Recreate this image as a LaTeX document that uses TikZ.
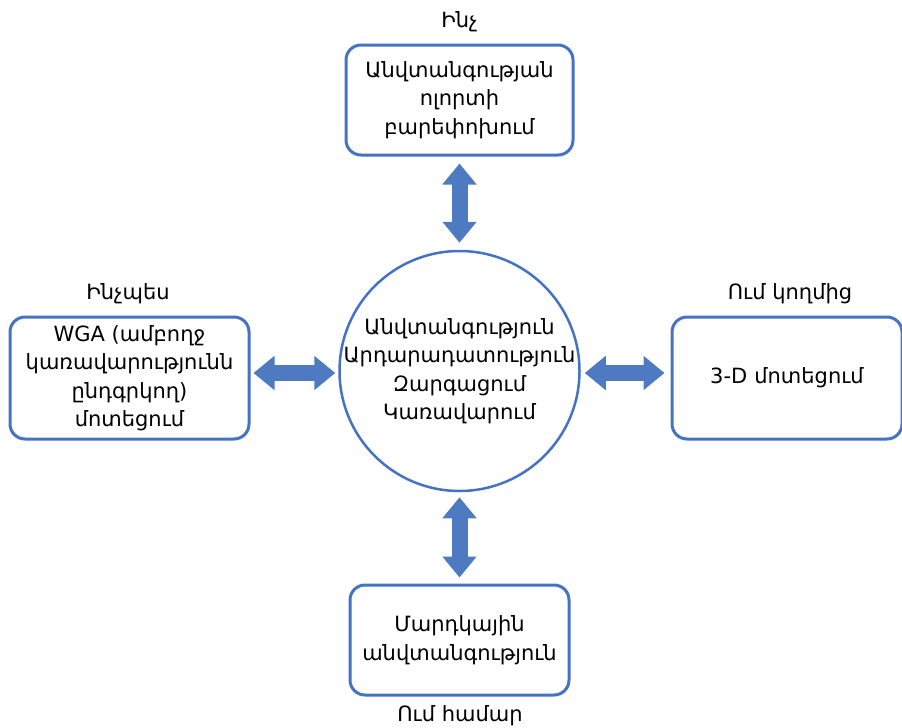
\documentclass[tikz,border=0pt]{standalone}
\usepackage{fontspec}
\setmainfont{DejaVu Sans}
\usetikzlibrary{arrows.meta}
\definecolor{ablue}{RGB}{68,114,196}
\definecolor{bblue}{RGB}{77,122,192}
\tikzset{
  box/.style={draw=ablue, line width=3pt, rounded corners=15pt, align=center, inner sep=0pt, text=black},
  hub/.style={draw=ablue, line width=2.5pt, circle, align=center, inner sep=-12pt, minimum size=240pt, text=black},
  lbl/.style={inner sep=0pt, text=black},
  bigarrow/.style={draw=bblue, line width=16pt, {Triangle[length=21pt,width=33pt]}-{Triangle[length=21pt,width=33pt]}},
  txt/.style={font=\fontsize{21}{28.5}\selectfont}
}
\begin{document}
\begin{tikzpicture}[x=1pt,y=-1pt, txt]
\useasboundingbox (0,0) rectangle (902,728);
\clip (0,0) rectangle (902,728);
\node[hub] (c) at (459.5,371) {Անվտանգություն\\Արդարադատություն\\Զարգացում\\Կառավարում};
\node[box, minimum width=227pt, minimum height=110pt] (top) at (459.5,100) {Անվտանգության\\ոլորտի\\բարեփոխում};
\node[box, minimum width=239pt, minimum height=122pt] (left) at (129.5,378) {WGA (ամբողջ\\կառավարությունն\\ընդգրկող)\\մոտեցում};
\node[box, minimum width=230pt, minimum height=122pt, text width=230pt] (right) at (787,378) {3-D մոտեցում};
\node[box, minimum width=219pt, minimum height=110pt] (bot) at (459.5,640) {Մարդկային\\անվտանգություն};
\node[lbl] (ltop) at (459.5,22) {Ինչ};
\node[lbl] (lleft) at (128,294) {Ինչպես};
\node[lbl] (lright) at (790,294) {Ում կողմից};
\node[lbl] (lbot) at (460,716) {Ում համար};
\draw[bigarrow, shorten <=7pt, shorten >=7pt] (top.south) -- (c.north);
\draw[bigarrow, shorten <=5pt, shorten >=6pt] (c.south) -- (bot.north);
\coordinate (ay) at (0,373);
\draw[bigarrow, shorten <=3pt, shorten >=3pt] (left.east |- ay) -- (c.west |- ay);
\draw[bigarrow, shorten <=4pt, shorten >=6pt] (c.east |- ay) -- (right.west |- ay);
\end{tikzpicture}
\end{document}
